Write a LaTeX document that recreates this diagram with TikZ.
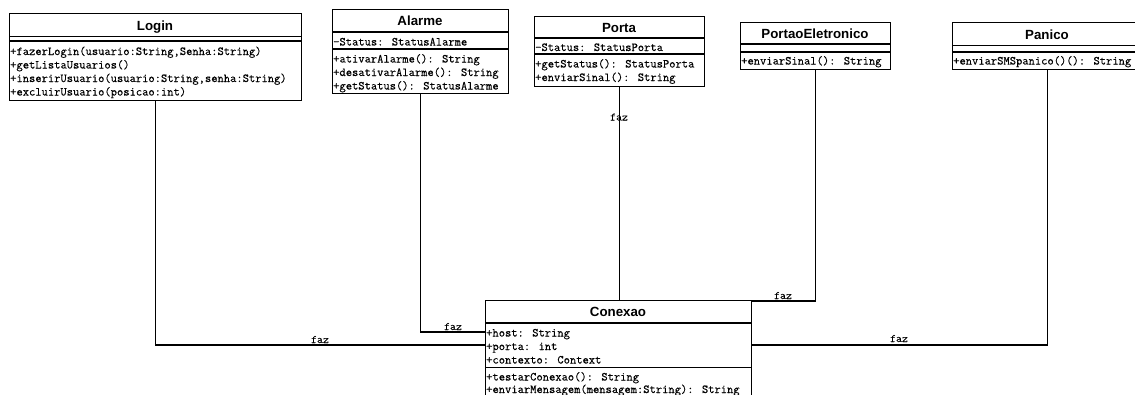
\documentclass[tikz,border=0pt]{standalone}
\usepackage{fontspec}
\newfontfamily\titlefont{Liberation Sans}
\newfontfamily\memberfont{Latin Modern Mono}[FakeBold=0.35]
\begin{document}
\begin{tikzpicture}[x=1pt,y=-1pt,
  classbox/.style={draw, fill=white, rectangle, inner sep=0pt, anchor=north west, line width=1.2pt},
  sep/.style={line width=1.1pt},
  ctitle/.style={anchor=base, inner sep=0pt, font=\titlefont\bfseries\fontsize{13.3}{16}\selectfont},
  member/.style={anchor=base west, inner sep=0pt, font=\memberfont\fontsize{12.2}{13.5}\selectfont},
  rel/.style={line width=1.2pt},
  rellabel/.style={anchor=base, inner sep=0pt, font=\memberfont\fontsize{11.5}{13}\selectfont}]
\useasboundingbox (0,0) rectangle (1135,394);
\clip (0,0) rectangle (1135,394);

% ---------- Login ----------
\node[classbox, minimum width=292pt, minimum height=87pt] (login) at (9,13) {};
\draw[sep] (9,36.5) -- (301,36.5);
\draw[sep] (9,41) -- (301,41);
\node[ctitle] (login-t) at (155,30) {Login};
\node[member] (login-m1) at (10,55) {+fazerLogin(usuario:String,Senha:String)};
\node[member] (login-m2) at (10,68.5) {+getListaUsuarios()};
\node[member] (login-m3) at (10,82) {+inserirUsuario(usuario:String,senha:String)};
\node[member] (login-m4) at (10,95.5) {+excluirUsuario(posicao:int)};

% ---------- Alarme ----------
\node[classbox, minimum width=176pt, minimum height=84pt] (alarme) at (332,9) {};
\draw[sep] (332,32) -- (508,32);
\draw[sep] (332,49) -- (508,49);
\node[ctitle] (alarme-t) at (420,25.7) {Alarme};
\node[member] (alarme-a1) at (333,45.5) {-Status: StatusAlarme};
\node[member] (alarme-m1) at (333,62.5) {+ativarAlarme(): String};
\node[member] (alarme-m2) at (333,76) {+desativarAlarme(): String};
\node[member] (alarme-m3) at (333,89.5) {+getStatus(): StatusAlarme};

% ---------- Porta ----------
\node[classbox, minimum width=170pt, minimum height=70pt] (porta) at (534,16) {};
\draw[sep] (534,38) -- (704,38);
\draw[sep] (534,54) -- (704,54);
\node[ctitle] (porta-t) at (619,32.3) {Porta};
\node[member] (porta-a1) at (535,51) {-Status: StatusPorta};
\node[member] (porta-m1) at (535,67.5) {+getStatus(): StatusPorta};
\node[member] (porta-m2) at (535,81) {+enviarSinal(): String};

% ---------- PortaoEletronico ----------
\node[classbox, minimum width=150pt, minimum height=47pt] (portao) at (740,22) {};
\draw[sep] (740,44) -- (890,44);
\draw[sep] (740,52) -- (890,52);
\node[ctitle] (portao-t) at (815,38.3) {PortaoEletronico};
\node[member] (portao-m1) at (741,64.5) {+enviarSinal(): String};

% ---------- Panico ----------
\node[classbox, minimum width=190pt, minimum height=47pt] (panico) at (952,22) {};
\draw[sep] (952,45.5) -- (1142,45.5);
\draw[sep] (952,52) -- (1142,52);
\node[ctitle] (panico-t) at (1047,39.3) {Panico};
\node[member] (panico-m1) at (953,64.5) {+enviarSMSpanico()(): String};

% ---------- Conexao ----------
\node[classbox, minimum width=266pt, minimum height=110pt] (conexao) at (485,300) {};
\draw[sep] (485,323) -- (751,323);
\draw[sep] (485,367.5) -- (751,367.5);
\node[ctitle] (conexao-t) at (618,316.7) {Conexao};
\node[member] (conexao-a1) at (486,336.5) {+host: String};
\node[member] (conexao-a2) at (486,350) {+porta: int};
\node[member] (conexao-a3) at (486,363.5) {+contexto: Context};
\node[member] (conexao-m1) at (486,380.5) {+testarConexao(): String};
\node[member] (conexao-m2) at (486,393) {+enviarMensagem(mensagem:String): String};

% ---------- associations ----------
\draw[rel] (login.south) |- ([yshift=-45pt]conexao.north west);
\node[rellabel] (faz-login) at (320,343) {faz};

\draw[rel] (alarme.south) |- ([yshift=-32pt]conexao.north west);
\node[rellabel] (faz-alarme) at (453,330) {faz};

\draw[rel] (porta.south) -- (porta.south |- conexao.north);
\node[rellabel] (faz-porta) at (619,120.5) {faz};

\draw[rel] (portao.south) |- ([yshift=-1pt]conexao.north east);
\node[rellabel] (faz-portao) at (783,299) {faz};

\draw[rel] (panico.south) |- ([yshift=-45pt]conexao.north east);
\node[rellabel] (faz-panico) at (899,342) {faz};
\end{tikzpicture}
\end{document}
